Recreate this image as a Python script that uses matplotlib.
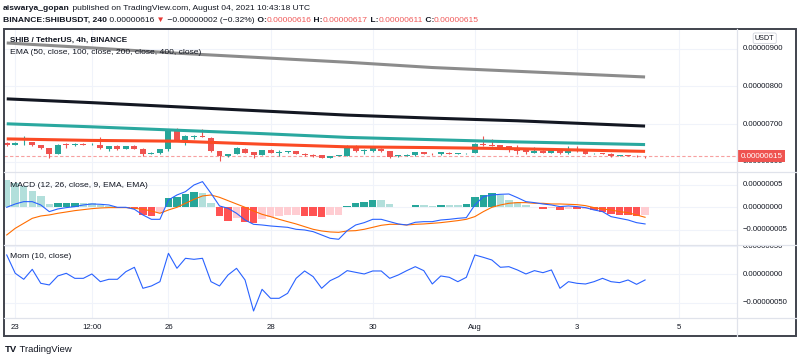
import numpy as np
import matplotlib.pyplot as plt
from matplotlib.patches import Rectangle
from matplotlib.lines import Line2D

plt.rcParams['font.family'] = ['Liberation Sans', 'DejaVu Sans']

# SHIB/USDT 4h candles, Jul 22 20:00 .. Aug 4 08:00, prices in 1e-8 USDT
opens = [651, 646, 649, 653, 644, 637, 622, 648, 644, 648, 646.5, 646, 635, 642, 635, 642,
         635, 621, 623, 635, 684, 655, 666, 669, 664, 629, 615, 621, 635, 626, 619, 631,
         625, 626, 628, 622, 619, 617.6, 611, 616, 616, 637, 628, 628, 635, 628, 616, 616,
         618, 626, 622, 620, 625, 622, 623, 625, 647, 646, 644, 641, 635, 631, 625, 630,
         625, 630, 624, 632, 628, 623, 624, 622, 616, 617.6, 616.7, 616]
highs = [654, 652, 670, 654, 645, 638, 647, 649, 650, 650, 649, 666, 643, 645, 643, 644,
         636, 626, 635, 686, 690, 671, 672, 686, 666, 630, 622, 639, 638, 627, 632, 633,
         631, 629, 630, 623, 620, 618, 617, 619, 644, 644, 635, 638, 637, 629, 619, 620,
         627, 627, 623, 627, 627, 624, 625, 650, 670, 662, 645, 642, 644, 632, 640, 632,
         633, 632, 642, 641, 630, 625, 625, 623, 618.5, 618.5, 617.5, 617]
lows = [642, 644, 646, 643, 635, 611, 621, 637, 641, 645, 645, 635, 630, 632, 634, 633,
        615, 620, 622, 630, 655, 646, 660, 665, 627, 602, 613, 620, 623, 611, 618, 623,
        616, 624, 620, 616, 614, 610, 610, 615, 615, 627, 622, 627, 627, 610, 614, 615,
        617, 620, 619, 619, 620, 621, 622, 623, 643, 641, 638, 626, 622, 620, 623, 623,
        623, 622, 622, 626, 620, 622, 621, 614, 615, 615, 614, 611]
closes = [644, 650, 650, 644, 637, 622, 646, 646, 648, 646, 647.5, 637, 642, 634, 642, 635,
          621, 625, 633.5, 684, 657, 669, 669, 666, 628, 615, 621, 637, 625, 619, 631, 625,
          626, 628, 622, 618, 616, 611.4, 616, 617.6, 637, 628, 631, 637, 628, 614, 617.6, 619,
          626, 621, 620.5, 626, 621, 623, 624, 648, 644, 642, 640, 635, 630, 626, 630, 625,
          631, 624, 633, 628, 621, 624, 622, 615, 617.6, 616, 615, 615]

# EMA lines read at a few candle indexes
ema_idx = [0, 10, 20, 30, 40, 50, 60, 75]
ema50 = [661, 657, 655, 647, 640, 638, 635, 628]
ema100 = [701, 693, 684, 675, 665, 659, 653, 646]
ema200 = [767, 757, 746, 735, 724, 716, 709, 695]
ema400 = [915, 902, 888, 876, 864, 850, 840, 825]

# MACD (1e-8)
macd_line = [0, 0.74, 1.26, 1.26, 0.52, -0.96, -0.37, -0.07, 0.15, 0.52, 0.74, 0.67, 0.52, 0, 0,
             -0.44, -1.70, -2.67, -2.67, 1.63, 2.74, 3.48, 4.96, 5.71, 3.11, 0.30, -0.22, -1.33,
             -2.82, -3.78, -3.93, -4.15, -4.30, -4.45, -4.89, -5.04, -5.41, -6.15, -6.89, -7.11,
             -5.19, -3.93, -3.41, -2.67, -2.67, -3.19, -3.70, -3.93, -3.33, -3.19, -3.19, -2.82,
             -2.67, -2.45, -2.30, 0.52, 2.37, 2.74, 2.89, 2.96, 2.15, 1.26, 1.04, 0.74, 0.52,
             0.15, 0.30, 0.15, -0.07, -0.59, -0.96, -2.07, -2.45, -2.82, -3.41, -3.70]
signal_line = [-6.15, -4.67, -3.56, -2.45, -1.93, -1.70, -1.33, -1.04, -0.74, -0.52, -0.30, -0.15,
               -0.07, -0.07, -0.07, -0.22, -0.44, -0.82, -1.33, -0.59, 0, 0.89, 1.78, 2.52, 2.74,
               2.22, 1.48, 0.74, 0, -0.82, -1.56, -2.07, -2.67, -3.19, -3.70, -4.30, -4.89, -5.26,
               -5.48, -5.56, -5.26, -5.19, -4.89, -4.45, -4.00, -3.78, -3.78, -3.93, -3.78, -3.70,
               -3.56, -3.41, -3.19, -2.96, -2.67, -2.07, -0.96, 0, 0.52, 0.89, 1.04, 1.04, 0.89,
               0.89, 0.74, 0.74, 0.67, 0.59, 0.37, -0.07, -0.37, -0.59, -0.96, -1.19, -1.70, -2.22]
macd_hist = [6.15, 5.41, 4.82, 3.71, 2.45, 0.74, 0.96, 1.0, 1.05, 1.0, 0.95, 0.5, 0.3, -0.05,
             -0.1, -0.3, -1.70, -1.85, -1.19, 2.0, 2.37, 2.96, 3.48, 3.26, 0.89, -1.85, -2.96,
             -2.45, -3.19, -3.41, -2.67, -2.07, -1.93, -1.78, -1.70, -1.85, -1.90, -2.07, -1.78,
             -1.70, 0.30, 0.89, 1.11, 1.63, 1.55, 0.74, 0.15, 0.1, 0.52, 0.45, 0.40, 0.6, 0.55,
             0.5, 0.7, 2.22, 2.74, 3.11, 2.74, 1.63, 1.11, 0.52, 0.15, -0.3, -0.1, -0.6, -0.3,
             -0.45, -0.4, -0.7, -0.96, -1.48, -1.70, -1.75, -1.85, -1.70]

# Momentum (10, close), 1e-8
mom = [34.2, 1.8, -8.8, 8.8, -15.9, -18.8, -2.9, 1.8, -7.1, -7.1, 0.6, -13.0, -8.8, -8.8, 4.7,
       12.4, -24.7, -20.6, -13.0, 37.1, 10.6, 28.3, 26.5, 28.3, -13.0, -20.6, -1.2, 10.6, -10.0,
       -64.8, -26.5, -42.4, -42.4, -33.6, -7.1, 5.9, -4.1, -24.7, -11.2, -4.1, 6.5, 3.5, 0.6,
       5.9, 5.9, -7.1, -1.2, 6.5, 13.5, 6.5, -17.1, -2.9, -5.3, -13.0, -5.3, 34.2, 30.0, 25.3,
       12.4, 13.5, 7.7, 0.6, 6.5, 2.9, 7.7, -24.7, -13.0, -15.9, -17.1, -13.0, -7.1, -13.0,
       -14.7, -10.0, -17.7, -10.0]

time_ticks = [1, 10, 19, 31, 43, 55, 67, 79]
time_labels = ['23', '12:00', '26', '28', '30', 'Aug', '3', '5']
last_price = 615

W, H = 800, 362
fig = plt.figure(figsize=(W / 100, H / 100), dpi=100)
fig.patch.set_facecolor('white')

UP, DOWN = '#26a69a', '#ef5350'
GRID = '#f0f3fa'
TXT = '#131722'
X0, X1, XR = 4, 737, 796


def rect(x, y0, y1, w):
    return [x / W, 1 - y1 / H, w / W, (y1 - y0) / H]


def pane(y0, y1, ylim, yticks, labels):
    ax = fig.add_axes(rect(X0, y0, y1, X1 - X0))
    ax.set_xlim(-0.32, 85.8)
    ax.set_ylim(*ylim)
    for s in ax.spines.values():
        s.set_visible(False)
    ax.set_xticks(time_ticks)
    ax.set_yticks(yticks)
    ax.tick_params(length=0, labelbottom=False, labelleft=False)
    ax.grid(True, color=GRID, lw=0.8)
    ax.set_axisbelow(True)
    sax = fig.add_axes(rect(X1, y0, y1, XR - X1))
    sax.set_ylim(*ylim)
    sax.set_xlim(0, 1)
    sax.axis('off')
    for v, lab in zip(yticks, labels):
        sax.text(0.1, v, lab, fontsize=5.6, color=TXT, va='center', ha='left', clip_on=True)
    return ax, sax


# main pane
ax, sax = pane(29, 171.5, (574.7, 952), [600, 700, 800, 900],
               ['0.00000600', '0.00000700', '0.00000800', '0.00000900'])
idx = np.arange(len(closes))
o, h, l, c = map(np.array, (opens, highs, lows, closes))
cols = np.where(c >= o, UP, DOWN)
ax.vlines(idx, l, h, colors=cols, lw=0.8, zorder=3)
ax.bar(idx, np.maximum(np.abs(c - o), 0.6), bottom=np.minimum(o, c), width=0.7,
       color=cols, zorder=4)
ax.plot(ema_idx, ema400, color='#8c8c8c', lw=2.2, zorder=5, solid_capstyle='butt')
ax.plot(ema_idx, ema200, color='#131722', lw=2.2, zorder=5, solid_capstyle='butt')
ax.plot(ema_idx, ema100, color='#2aa89f', lw=2.2, zorder=5, solid_capstyle='butt')
ax.plot(ema_idx, ema50, color='#fb4a24', lw=2.2, zorder=6, solid_capstyle='butt')
ax.axhline(last_price, color='#f7a0a0', lw=0.8, ls=(0, (3, 2)), zorder=2)
ax.text(0.008, 0.923, 'SHIB / TetherUS, 4h, BINANCE', transform=ax.transAxes, fontsize=5.9,
        fontweight='bold', color=TXT, va='center', zorder=7)
ax.text(0.008, 0.832, 'EMA (50, close, 100, close, 200, close, 400, close)', transform=ax.transAxes,
        fontsize=6.1, color=TXT, va='center', zorder=7)
sax.text(0.47, 0.935, 'USDT', transform=sax.transAxes, fontsize=5.2, color=TXT, ha='center',
         va='center', bbox=dict(boxstyle='round,pad=0.25', fc='white', ec='#d1d4dc', lw=0.6))
sax.text(0.42, last_price, '0.00000615', fontsize=5.8, color='white', ha='center', va='center',
         zorder=5, bbox=dict(boxstyle='square,pad=0.3', fc='#ef5350', ec='none'))

# MACD pane
ax2, sax2 = pane(171.5, 245, (-8.38, 7.96), [-5, 0, 5],
                 ['\u22120.00000005', '0.00000000', '0.00000005'])
hist = np.array(macd_hist)
prev = np.concatenate([[np.inf], hist[:-1]])
grow = hist > prev
hcol = np.where(hist >= 0, np.where(grow, '#26a69a', '#b2dfdb'),
                np.where(grow, '#ffcdd2', '#ff5252'))
ax2.bar(idx, hist, width=0.88, color=hcol, zorder=2)
ax2.plot(idx, macd_line, color='#2962ff', lw=0.8, zorder=4)
ax2.plot(idx, signal_line, color='#ff6d00', lw=0.8, zorder=3)
ax2.text(0.008, 0.816, 'MACD (12, 26, close, 9, EMA, EMA)', transform=ax2.transAxes,
         fontsize=6.1, color=TXT, va='center')

# Momentum pane
ax3, sax3 = pane(245, 318, (-77.2, 51.8), [-50, 0, 50],
                 ['\u22120.00000050', '0.00000000', '0.00000050'])
ax3.plot(idx, mom, color='#2962ff', lw=0.8, zorder=3)
ax3.text(0.008, 0.836, 'Mom (10, close)', transform=ax3.transAxes, fontsize=6.1,
         color=TXT, va='center')
ax3.tick_params(labelbottom=True, pad=4.5, labelsize=5.6, labelcolor=TXT)
ax3.set_xticklabels(time_labels)

# separators and frame
for y in (171.5, 245, 318):
    fig.add_artist(Line2D([X0 / W, XR / W], [1 - y / H] * 2, color='#e0e3eb', lw=0.9))
fig.add_artist(Line2D([X1 / W] * 2, [1 - 336 / H, 1 - 29 / H], color='#e0e3eb', lw=0.9))
fig.add_artist(Rectangle((X0 / W, 1 - 336 / H), (XR - X0) / W, 307 / H, fill=False,
                         ec='#40434d', lw=1.4))

# header
renderer = fig.canvas.get_renderer()


def runs(x, y, parts, size):
    for s, color, weight in parts:
        t = fig.text(x / W, 1 - y / H, s, color=color, fontweight=weight, fontsize=size,
                     va='center', ha='left')
        x += t.get_window_extent(renderer).width


RED = '#f05a5a'
runs(3, 8, [('aiswarya_gopan', TXT, 'bold'),
            (' published on TradingView.com, August 04, 2021 10:43:18 UTC', TXT, 'normal')], 6.1)
runs(3, 20, [('BINANCE:SHIBUSDT, 240', TXT, 'bold'), (' 0.00000616', TXT, 'normal'),
             (' \u25bc', '#e53935', 'normal'), (' \u22120.00000002 (\u22120.32%)', TXT, 'normal'),
             (' O:', TXT, 'bold'), ('0.00000616', RED, 'normal'), (' H:', TXT, 'bold'),
             ('0.00000617', RED, 'normal'), (' L:', TXT, 'bold'), ('0.00000611', RED, 'normal'),
             (' C:', TXT, 'bold'), ('0.00000615', RED, 'normal')], 6.1)
runs(5, 349, [('TV', TXT, 'bold'), (' TradingView', TXT, 'normal')], 6.8)

fig.savefig('out.png', dpi=100, facecolor='white')
